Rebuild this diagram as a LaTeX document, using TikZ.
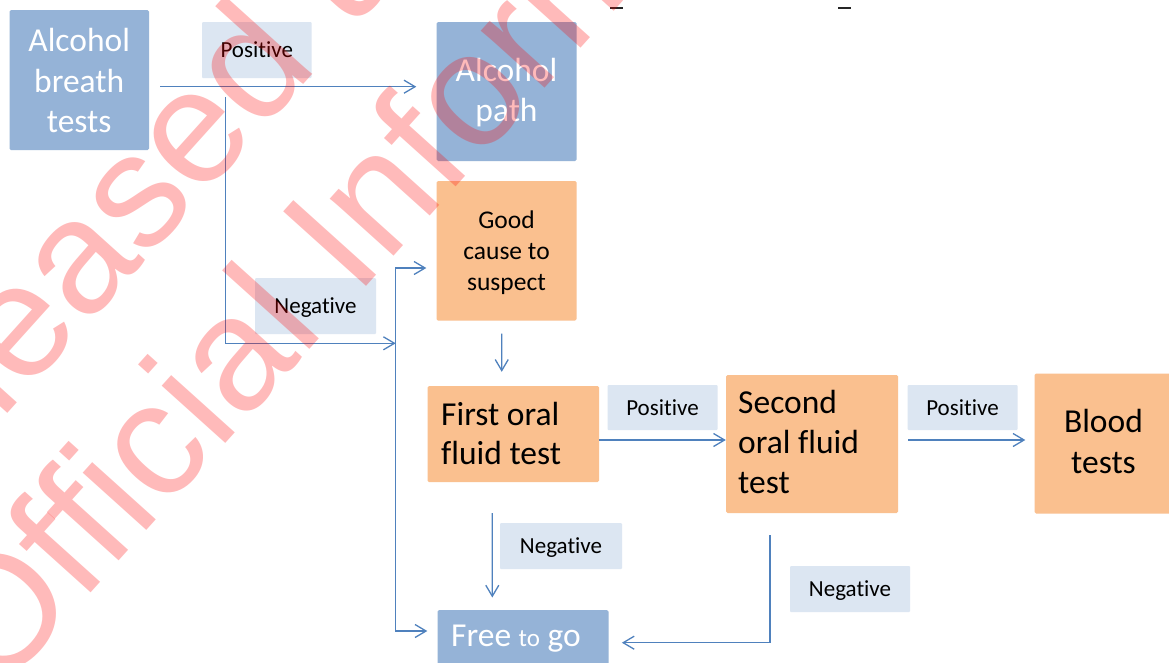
\documentclass[tikz,border=0pt]{standalone}
\usepackage{fontspec}
\setmainfont[Ligatures=NoCommon]{Carlito}
\newfontfamily\wmfont{Liberation Sans}
\usetikzlibrary{arrows.meta,calc}
\definecolor{boxblue}{HTML}{95B3D7}
\definecolor{boxorange}{HTML}{FAC08F}
\definecolor{tagfill}{HTML}{DCE6F2}
\definecolor{linkblue}{HTML}{4F81BD}
\definecolor{wmred}{HTML}{FF0000}

\begin{document}
\begin{tikzpicture}[x=1pt,y=-1pt,
  block/.style={rectangle, rounded corners=1.5pt, inner sep=0pt, draw=none},
  blueblock/.style={block, fill=boxblue},
  orangeblock/.style={block, fill=boxorange},
  tag/.style={rectangle, rounded corners=1pt, fill=tagfill, inner sep=0pt,
    font=\fontsize{23}{28}\selectfont, text height=15pt, text depth=0pt},
  bigtext/.style={inner sep=0pt, font=\fontsize{33.5}{40.3}\selectfont},
  midtext/.style={inner sep=0pt, font=\fontsize{25.5}{31.3}\selectfont},
  conn/.style={draw=linkblue, line width=1.3pt,
    -{Straight Barb[length=11pt,width=13pt]}},
  wm/.style={inner sep=0pt, anchor=base west, rotate=48, text=wmred,
    text opacity=0.27, font=\wmfont\fontsize{162}{190}\selectfont},
]
% canvas
\fill[white] (0,0) rectangle (1169,662);
\useasboundingbox (0,0) rectangle (1169,662);

% fragments of a line cut off at the top edge
\draw[line width=1.6pt, black!85] (610,8) -- (623,8);
\draw[line width=1.6pt, black!85] (838,8) -- (851,8);

% blocks
\node[blueblock, minimum width=139.5pt, minimum height=140pt] (abt) at (79.25,80) {};
\node[blueblock, minimum width=140pt, minimum height=139pt] (apath) at (506.5,91.5) {};
\node[orangeblock, minimum width=140pt, minimum height=139.5pt] (good) at (506.5,250.75) {};
\node[orangeblock, minimum width=171.5pt, minimum height=96pt] (first) at (513.25,434) {};
\node[orangeblock, minimum width=172pt, minimum height=138pt] (second) at (812,444) {};
\node[orangeblock, minimum width=138pt, minimum height=140pt] (blood) at (1103.5,443.5) {};
\node[blueblock, minimum width=171pt, minimum height=70pt] (free) at (523,645) {};

% block texts (base anchor = baseline of the last line)
\node[bigtext, text=white, align=center, anchor=base] (abtTxt) at (79.2,132.3) {Alcohol\\breath\\tests};
\node[bigtext, text=white, align=center, anchor=base] (apathTxt) at (506.5,121.7) {Alcohol\\path};
\node[midtext, align=center, anchor=base] (goodTxt) at (506.5,290.7) {Good\\cause to\\suspect};
\node[bigtext, font=\fontsize{33.5}{39.3}\selectfont, align=left, anchor=base west] (firstTxt) at (441,464.3) {First oral\\fluid test};
\node[bigtext, font=\fontsize{33.5}{40}\selectfont, align=left, anchor=base west] (secondTxt) at (738,493.3) {Second\\oral fluid\\test};
\node[bigtext, font=\fontsize{33.5}{40.6}\selectfont, align=center, anchor=base] (bloodTxt) at (1103.5,473.3) {Blood\\tests};
\node[bigtext, text=white, anchor=base west] (freeTxt) at (451,646.7) {Free {\fontsize{25}{30}\selectfont to} go};

% outcome tags
\node[tag, minimum width=109.5pt, minimum height=56pt] (tPosA) at (256.75,50) {Positive};
\node[tag, minimum width=121pt, minimum height=56pt] (tNegA) at (315.5,306) {Negative};
\node[tag, minimum width=110pt, minimum height=45pt] (tPosB) at (662.5,407.5) {Positive};
\node[tag, minimum width=110pt, minimum height=45pt] (tPosC) at (962.5,407.5) {Positive};
\node[tag, minimum width=122pt, minimum height=46pt] (tNegB) at (561,546) {Negative};
\node[tag, minimum width=120pt, minimum height=46pt] (tNegC) at (850,589) {Negative};

% connectors
\draw[conn] ($(abt.east)+(11,6.7)$) -- ($(apath.west)+(-20,-4.8)$);
\draw[conn] ($(abt.east)+(76,17.3)$) |- (395.7,343.3);
\draw[conn, {Straight Barb[length=11pt,width=13pt]}-{Straight Barb[length=11pt,width=13pt]}]
  ($(good.west)+(-10,17.25)$) -- (395.7,268) -- (395.7,631) -- ($(free.west)+(-10,-14)$);
\draw[conn] ($(good.south)+(-4.8,12.8)$) -- ($(first.north)+(-11.5,-14)$);
\draw[conn] ($(first.south)+(-21,31)$) -- ($(free.north)+(-30.7,-12.3)$);
\draw[conn] ($(first.east)+(0,6)$) -- ($(second.west)+(0,-4)$);
\draw[conn] ($(second.east)+(10,-4)$) -- ($(blood.west)+(-9,-3.5)$);
\draw[conn] ($(second.south)+(-42,22)$) -- (770,642.7) -- ($(free.east)+(13.2,-2.3)$);

% watermark over everything
\node[wm] (wmTop) at (-138,575) {Released under the};
\node[wm] (wmBottom) at (-3,697) {Official Information Act};
\end{tikzpicture}
\end{document}
